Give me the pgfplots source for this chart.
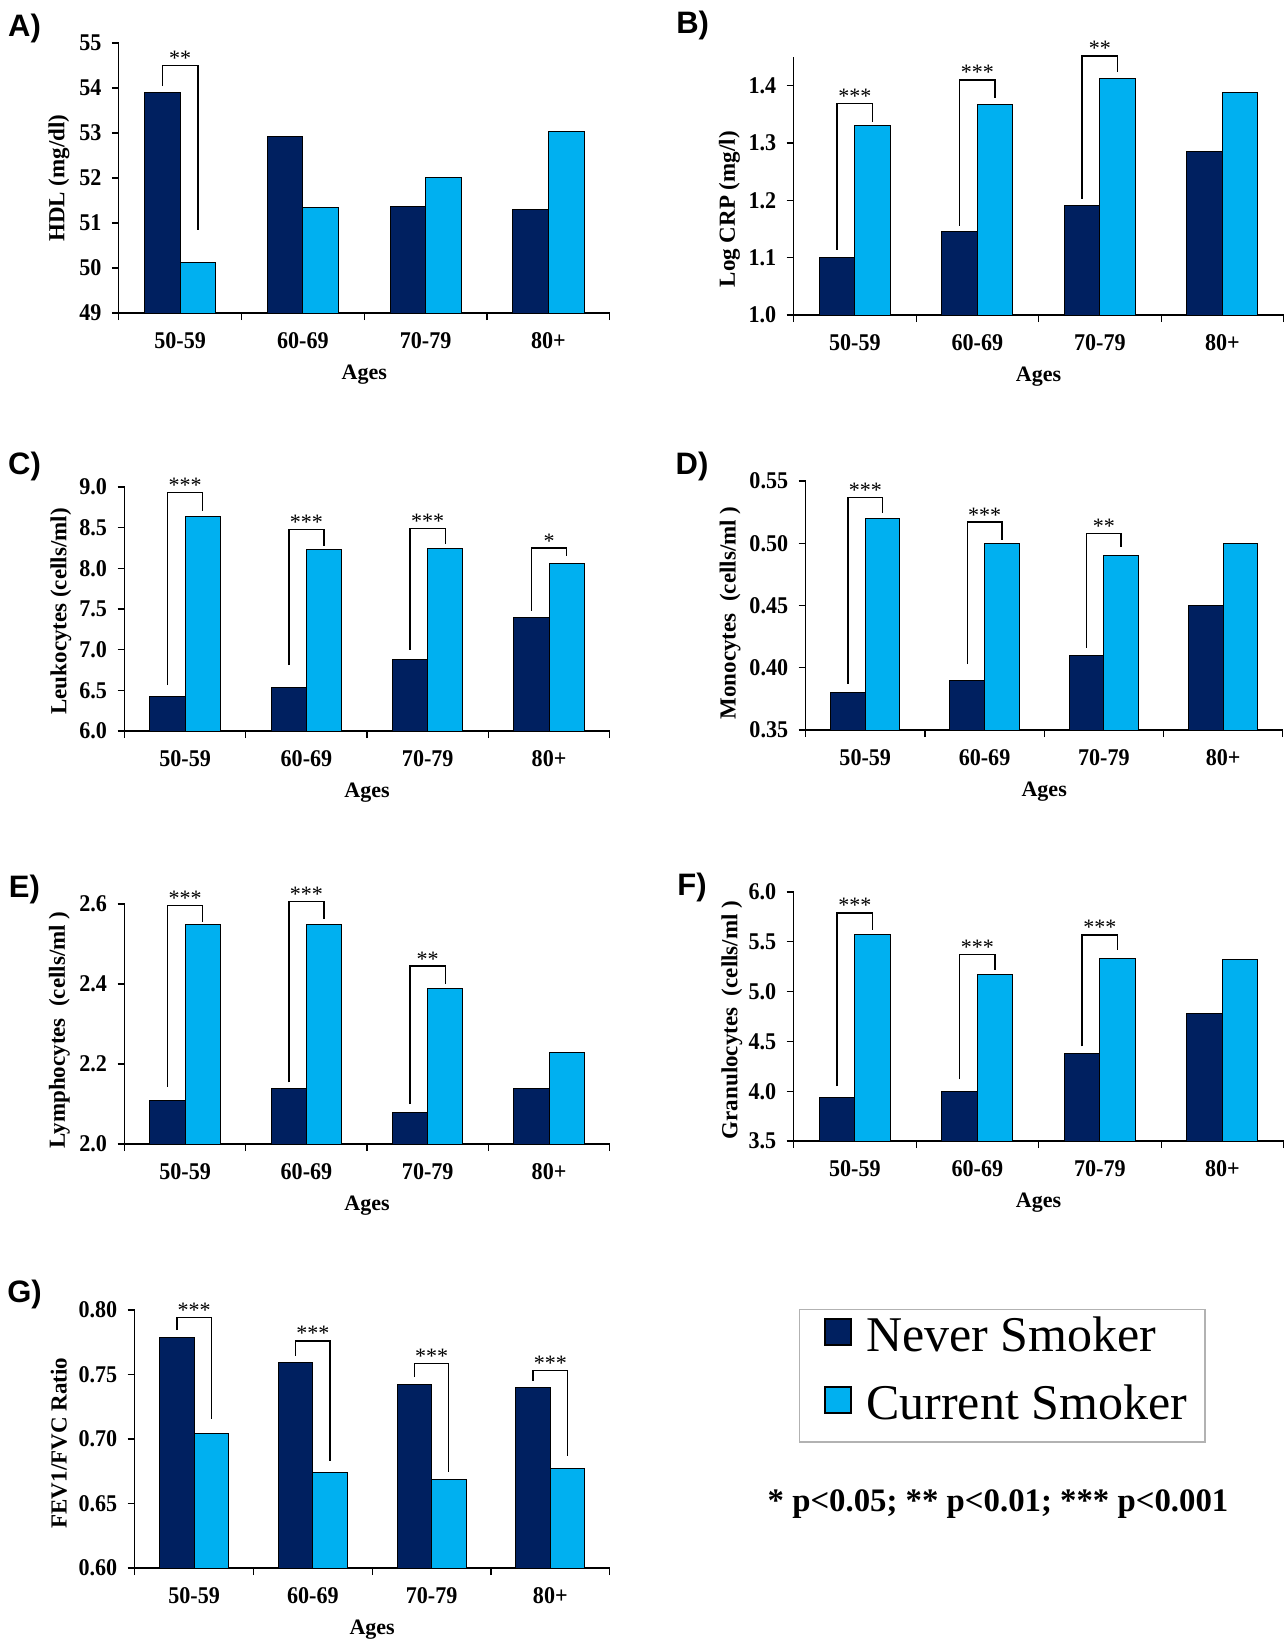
\documentclass[border=0pt]{standalone}
\usepackage{fontspec}
\setmainfont{Liberation Serif}
\newfontfamily\tickfont[FakeStretch=0.92]{Liberation Serif}
\newfontfamily\panelfont{Liberation Sans}
\usepackage{pgfplots}
\pgfplotsset{compat=1.18}
\definecolor{navy}{HTML}{002060}
\definecolor{sky}{HTML}{00B0F0}
\pgfplotsset{
  panel/.style={
    scale only axis, anchor=south west, clip=false,
    axis lines*=left,
    ybar=0pt, bar width=0.29,
    xmin=-0.5, xmax=3.5,
    xtick={-0.5,0.5,1.5,2.5,3.5}, xticklabels={},
    extra x ticks={0,1,2,3},
    extra x tick labels={50-59,60-69,70-79,80+},
    extra x tick style={major tick length=0pt, tick label style={yshift=-6.3pt}},
    tick align=outside, major tick length=3.5pt,
    axis line style={line width=0.6pt, black},
    every tick/.style={black, line width=0.6pt},
    /pgf/number format/assume math mode=true,
    tick label style={font=\tickfont\bfseries\fontsize{12}{14}\selectfont},
    yticklabel style={xshift=-1.7pt},
    xlabel={Ages},
    xlabel style={font=\bfseries\fontsize{11}{13}\selectfont, at={(axis description cs:0.5,0)}, anchor=center, yshift=-31pt},
    ylabel style={font=\bfseries\fontsize{11.5}{13}\selectfont, anchor=center},
  },
  dk/.style={fill=navy, draw=black, line width=0.5pt},
  lt/.style={fill=sky, draw=black, line width=0.5pt},
  sqlegend/.style={legend image code/.code={\path (0pt,0pt); \draw[##1,line width=1.2pt] (3.5pt,-0.5pt) rectangle (16.5pt,12.5pt);}},
}
\newcommand{\brk}[5]{%
  \draw[line width=0.7pt] (axis cs:#1-0.145,#2) -- (axis cs:#1-0.145,#3) -- (axis cs:#1+0.145,#3) -- (axis cs:#1+0.145,#4);
  \node[anchor=base, inner sep=0pt, font=\fontsize{11}{13}\selectfont] at (axis cs:#1,#3) {#5};}
\begin{document}
\begin{tikzpicture}
\useasboundingbox (0,0) rectangle (643pt,-820pt);
\tikzset{plab/.style={font=\panelfont\bfseries\fontsize{15.5}{18}\selectfont, anchor=center}}
\node[plab] at (12.25pt,-14pt) {A)};
\node[plab] at (346.3pt,-12.5pt) {B)};
\node[plab] at (12.25pt,-233pt) {C)};
\node[plab] at (346pt,-233pt) {D)};
\node[plab] at (12.25pt,-444.5pt) {E)};
\node[plab] at (346pt,-443.5pt) {F)};
\node[plab] at (12.25pt,-647pt) {G)};

% A
\begin{axis}[panel, at={(59.4pt,-156.5pt)}, width=245.5pt, height=135pt,
  ymin=49, ymax=55, ytick={49,50,...,55},
  ylabel={HDL (mg/dl)}, ylabel style={at={(axis description cs:-0.122,0.5)}}]
\addplot[dk] coordinates {(0,53.9) (1,52.93) (2,51.36) (3,51.31)};
\addplot[lt] coordinates {(0,50.13) (1,51.35) (2,52.01) (3,53.04)};
\brk{0}{54.04}{54.5}{50.85}{**}
\end{axis}

% B
\begin{axis}[panel, at={(396.8pt,-157.5pt)}, width=245pt, height=129pt,
  ymin=1.0, ymax=1.45, ytick={1.0,1.1,1.2,1.3,1.4},
  yticklabel style={/pgf/number format/.cd, fixed, fixed zerofill, precision=1},
  ylabel={Log CRP (mg/l)}, ylabel style={at={(axis description cs:-0.131,0.41)}}]
\addplot[dk] coordinates {(0,1.100) (1,1.145) (2,1.191) (3,1.286)};
\addplot[lt] coordinates {(0,1.331) (1,1.368) (2,1.413) (3,1.388)};
\brk{0}{1.114}{1.369}{1.337}{***}
\brk{1}{1.156}{1.410}{1.378}{***}
\brk{2}{1.203}{1.452}{1.424}{**}
\end{axis}

% C
\begin{axis}[panel, at={(62.25pt,-365.5pt)}, width=242.6pt, height=122pt,
  ymin=6.0, ymax=9.0, ytick={6.0,6.5,...,9.0},
  yticklabel style={/pgf/number format/.cd, fixed, fixed zerofill, precision=1},
  ylabel={Leukocytes (cells/ml)}, ylabel style={at={(axis description cs:-0.131,0.49)}}]
\addplot[dk] coordinates {(0,6.43) (1,6.54) (2,6.88) (3,7.39)};
\addplot[lt] coordinates {(0,8.64) (1,8.23) (2,8.24) (3,8.06)};
\brk{0}{6.565}{8.93}{8.71}{***}
\brk{1}{6.81}{8.48}{8.27}{***}
\brk{2}{7.00}{8.49}{8.30}{***}
\brk{3}{7.48}{8.25}{8.15}{*}
\end{axis}

% D
\begin{axis}[panel, at={(402.8pt,-365pt)}, width=238.6pt, height=124.5pt,
  ymin=0.35, ymax=0.55, ytick={0.35,0.40,0.45,0.50,0.55},
  yticklabel style={/pgf/number format/.cd, fixed, fixed zerofill, precision=2},
  ylabel={Monocytes\ \ (cells/ml )}, ylabel style={at={(axis description cs:-0.158,0.47)}}]
\addplot[dk] coordinates {(0,0.38) (1,0.39) (2,0.41) (3,0.45)};
\addplot[lt] coordinates {(0,0.52) (1,0.50) (2,0.49) (3,0.50)};
\brk{0}{0.387}{0.537}{0.524}{***}
\brk{1}{0.403}{0.517}{0.503}{***}
\brk{2}{0.416}{0.508}{0.497}{**}
\end{axis}

% E
\begin{axis}[panel, at={(62.25pt,-572pt)}, width=242.6pt, height=120pt,
  ymin=2.0, ymax=2.6, ytick={2.0,2.2,2.4,2.6},
  yticklabel style={/pgf/number format/.cd, fixed, fixed zerofill, precision=1},
  ylabel={Lymphocytes\ \ (cells/ml )}, ylabel style={at={(axis description cs:-0.134,0.475)}}]
\addplot[dk] coordinates {(0,2.11) (1,2.14) (2,2.08) (3,2.14)};
\addplot[lt] coordinates {(0,2.55) (1,2.55) (2,2.39) (3,2.23)};
\brk{0}{2.143}{2.596}{2.556}{***}
\brk{1}{2.154}{2.606}{2.5625}{***}
\brk{2}{2.10}{2.445}{2.40}{**}
\end{axis}

% F
\begin{axis}[panel, at={(396.8pt,-570.5pt)}, width=245pt, height=124.5pt,
  ymin=3.5, ymax=6.0, ytick={3.5,4.0,...,6.0},
  yticklabel style={/pgf/number format/.cd, fixed, fixed zerofill, precision=1},
  ylabel={Granulocytes\ \ (cells/ml )}, ylabel style={at={(axis description cs:-0.126,0.486)}}]
\addplot[dk] coordinates {(0,3.94) (1,4.00) (2,4.38) (3,4.78)};
\addplot[lt] coordinates {(0,5.57) (1,5.17) (2,5.33) (3,5.32)};
\brk{0}{4.05}{5.79}{5.62}{***}
\brk{1}{4.12}{5.37}{5.22}{***}
\brk{2}{4.45}{5.57}{5.42}{***}
\end{axis}

% G
\begin{axis}[panel, at={(67.35pt,-784pt)}, width=237.5pt, height=129pt,
  ymin=0.60, ymax=0.80, ytick={0.60,0.65,0.70,0.75,0.80},
  yticklabel style={/pgf/number format/.cd, fixed, fixed zerofill, precision=2},
  ylabel={FEV1/FVC Ratio}, ylabel style={at={(axis description cs:-0.16,0.484)}},
  legend style={at={(1.3985,1.004)}, anchor=north west, draw=gray!60, line width=0.6pt,
    inner xsep=9pt, inner ysep=4pt, row sep=10pt, column sep=7pt,
    nodes={inner sep=0pt, text height=15pt, text depth=7pt, font=\fontsize{25}{29}\selectfont}},
  legend cell align=left]
\addplot[dk, sqlegend] coordinates {(0,0.779) (1,0.7595) (2,0.742) (3,0.740)};
\addplot[lt, sqlegend] coordinates {(0,0.7045) (1,0.674) (2,0.669) (3,0.677)};
\legend{Never Smoker, Current Smoker}
\brk{0}{0.7845}{0.7943}{0.7152}{***}
\brk{1}{0.7644}{0.776}{0.6826}{***}
\brk{2}{0.748}{0.7587}{0.6748}{***}
\brk{3}{0.745}{0.753}{0.6865}{***}
\end{axis}

\node[anchor=base, font=\bfseries\fontsize{16.4}{19}\selectfont] at (499pt,-755.5pt) {* p<0.05; ** p<0.01; *** p<0.001};
\end{tikzpicture}
\end{document}
